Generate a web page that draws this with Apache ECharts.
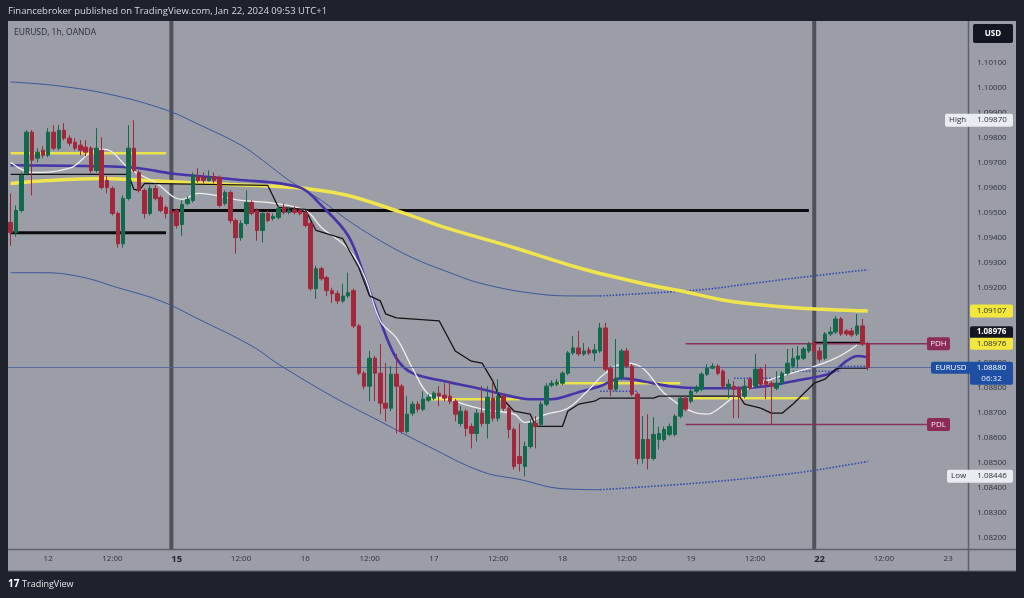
<!DOCTYPE html>
<html><head><meta charset="utf-8">
<script src="https://cdn.jsdelivr.net/npm/echarts@6/dist/echarts.min.js"></script>
<style>html,body{margin:0;padding:0;background:#1e222d;}#c{width:1024px;height:598px;}</style>
</head><body><div id="c"></div>
<script>
// ---------- DATA ----------
const sessionDays = ['11','12','15','16','17','18','19','22','23'];
const mondayDays = ['15','22'];
const barsBeforeFirstDay = 7;
const totalBars = 179;
const categories = [];
for (let k = 0; k < totalBars; k++) {
  const i = k - barsBeforeFirstDay;
  const d = i < 0 ? 0 : 1 + Math.floor(i / 24);
  const h = ((i % 24) + 24) % 24;
  categories.push('Jan ' + sessionDays[d] + ' ' + String(h).padStart(2, '0') + ':00');
}

// hourly OHLC: [open, close, low, high]
const candles = [
[1.09461,1.09420,1.09368,1.09577],[1.09420,1.09509,1.09404,1.09529],[1.09509,1.09649,1.09501,1.09661],[1.09657,1.09822,1.09649,1.09830],
[1.09822,1.09710,1.09569,1.09830],[1.09718,1.09742,1.09702,1.09758],[1.09750,1.09730,1.09718,1.09766],[1.09730,1.09822,1.09722,1.09838],
[1.09822,1.09758,1.09750,1.09850],[1.09758,1.09830,1.09750,1.09850],[1.09830,1.09798,1.09790,1.09858],[1.09798,1.09778,1.09766,1.09810],
[1.09782,1.09758,1.09750,1.09798],[1.09770,1.09750,1.09730,1.09790],[1.09762,1.09742,1.09726,1.09790],[1.09758,1.09669,1.09657,1.09766],
[1.09669,1.09758,1.09661,1.09838],[1.09750,1.09601,1.09593,1.09802],[1.09629,1.09601,1.09577,1.09645],[1.09597,1.09497,1.09489,1.09605],
[1.09497,1.09376,1.09360,1.09505],[1.09376,1.09557,1.09360,1.09569],[1.09557,1.09758,1.09549,1.09850],[1.09758,1.09669,1.09661,1.09870],
[1.09661,1.09589,1.09581,1.09669],[1.09589,1.09497,1.09477,1.09597],[1.09497,1.09597,1.09489,1.09609],[1.09597,1.09557,1.09549,1.09609],
[1.09561,1.09509,1.09501,1.09569],[1.09521,1.09497,1.09477,1.09529],[1.09505,1.09501,1.09485,1.09513],[1.09509,1.09449,1.09437,1.09517],
[1.09453,1.09533,1.09408,1.09549],[1.09537,1.09553,1.09529,1.09565],[1.09549,1.09649,1.09541,1.09661],[1.09645,1.09629,1.09621,1.09678],
[1.09641,1.09629,1.09617,1.09661],[1.09629,1.09641,1.09625,1.09669],[1.09645,1.09629,1.09617,1.09661],[1.09641,1.09529,1.09521,1.09649],
[1.09537,1.09581,1.09529,1.09589],[1.09581,1.09469,1.09457,1.09589],[1.09469,1.09400,1.09336,1.09477],[1.09400,1.09457,1.09388,1.09469],
[1.09457,1.09541,1.09449,1.09589],[1.09541,1.09497,1.09489,1.09549],[1.09509,1.09429,1.09388,1.09517],[1.09429,1.09497,1.09380,1.09505],
[1.09497,1.09469,1.09461,1.09509],[1.09477,1.09485,1.09469,1.09497],[1.09481,1.09517,1.09473,1.09525],[1.09521,1.09501,1.09493,1.09537],
[1.09501,1.09509,1.09493,1.09521],[1.09513,1.09501,1.09493,1.09525],[1.09509,1.09497,1.09489,1.09517],[1.09501,1.09449,1.09441,1.09509],
[1.09457,1.09196,1.09188,1.09465],[1.09196,1.09276,1.09155,1.09288],[1.09276,1.09236,1.09228,1.09284],[1.09240,1.09188,1.09167,1.09248],
[1.09188,1.09176,1.09139,1.09200],[1.09176,1.09147,1.09135,1.09188],[1.09147,1.09167,1.09139,1.09216],[1.09167,1.09180,1.09159,1.09260],
[1.09188,1.09047,1.09039,1.09196],[1.09047,1.08858,1.08850,1.09055],[1.08858,1.08806,1.08794,1.08866],[1.08806,1.08918,1.08746,1.08947],
[1.08918,1.08858,1.08746,1.08927],[1.08858,1.08738,1.08694,1.08975],[1.08738,1.08718,1.08665,1.08898],[1.08718,1.08854,1.08706,1.08886],
[1.08854,1.08806,1.08617,1.08935],[1.08806,1.08625,1.08617,1.08814],[1.08625,1.08694,1.08617,1.08766],[1.08698,1.08734,1.08686,1.08746],
[1.08734,1.08714,1.08702,1.08746],[1.08714,1.08754,1.08706,1.08786],[1.08750,1.08762,1.08742,1.08774],[1.08758,1.08778,1.08750,1.08786],
[1.08778,1.08766,1.08726,1.08806],[1.08770,1.08758,1.08746,1.08818],[1.08766,1.08746,1.08734,1.08826],[1.08746,1.08694,1.08665,1.08754],
[1.08657,1.08706,1.08645,1.08726],[1.08706,1.08637,1.08605,1.08714],[1.08645,1.08617,1.08557,1.08657],[1.08617,1.08698,1.08585,1.08714],
[1.08698,1.08657,1.08645,1.08806],[1.08657,1.08762,1.08597,1.08806],[1.08758,1.08678,1.08665,1.08826],[1.08678,1.08766,1.08665,1.08834],
[1.08766,1.08718,1.08706,1.08774],[1.08718,1.08633,1.08597,1.08726],[1.08633,1.08485,1.08473,1.08641],[1.08525,1.08497,1.08465,1.08657],
[1.08485,1.08565,1.08446,1.08585],[1.08565,1.08657,1.08557,1.08674],[1.08657,1.08645,1.08557,1.08686],[1.08653,1.08734,1.08645,1.08746],
[1.08734,1.08806,1.08726,1.08818],[1.08810,1.08818,1.08802,1.08830],[1.08814,1.08822,1.08806,1.08834],[1.08818,1.08858,1.08810,1.08866],
[1.08858,1.08939,1.08850,1.08947],[1.08939,1.08959,1.08931,1.09007],[1.08959,1.08935,1.08927,1.09027],[1.08935,1.08947,1.08927,1.08979],
[1.08951,1.08939,1.08931,1.08963],[1.08939,1.08951,1.08906,1.08975],[1.08947,1.09039,1.08939,1.09059],[1.09039,1.08874,1.08866,1.09059],
[1.08878,1.08794,1.08766,1.08886],[1.08794,1.08838,1.08786,1.08995],[1.08838,1.08947,1.08830,1.08955],[1.08947,1.08886,1.08878,1.08959],
[1.08886,1.08774,1.08766,1.08894],[1.08774,1.08517,1.08493,1.08782],[1.08517,1.08593,1.08497,1.08686],[1.08593,1.08517,1.08473,1.08694],
[1.08517,1.08613,1.08509,1.08682],[1.08593,1.08617,1.08553,1.08645],[1.08593,1.08633,1.08585,1.08645],[1.08613,1.08645,1.08605,1.08657],
[1.08613,1.08686,1.08605,1.08694],[1.08686,1.08758,1.08678,1.08766],[1.08758,1.08714,1.08706,1.08766],[1.08746,1.08786,1.08738,1.08794],
[1.08786,1.08802,1.08778,1.08810],[1.08794,1.08854,1.08786,1.08862],[1.08854,1.08878,1.08846,1.08894],[1.08878,1.08886,1.08874,1.08898],
[1.08886,1.08858,1.08850,1.08894],[1.08866,1.08806,1.08794,1.08874],[1.08798,1.08814,1.08758,1.08834],[1.08806,1.08794,1.08678,1.08826],
[1.08798,1.08766,1.08678,1.08806],[1.08766,1.08806,1.08758,1.08834],[1.08834,1.08798,1.08790,1.08842],[1.08806,1.08874,1.08798,1.08935],
[1.08874,1.08814,1.08806,1.08882],[1.08826,1.08814,1.08754,1.08894],[1.08818,1.08806,1.08653,1.08826],[1.08798,1.08818,1.08790,1.08866],
[1.08818,1.08858,1.08810,1.08866],[1.08858,1.08898,1.08850,1.08955],[1.08886,1.08918,1.08878,1.08959],[1.08914,1.08927,1.08878,1.08967],
[1.08918,1.08955,1.08910,1.08963],[1.08947,1.08975,1.08939,1.08983],[1.08979,1.08947,1.08939,1.08987],[1.08947,1.08914,1.08902,1.08963],
[1.08918,1.09015,1.08910,1.09023],[1.09015,1.09023,1.09007,1.09043],[1.09023,1.09075,1.09015,1.09087],[1.09075,1.09015,1.09007,1.09083],
[1.09027,1.09015,1.09007,1.09035],[1.09027,1.09011,1.09003,1.09039],[1.09015,1.09047,1.09007,1.09095],[1.09047,1.08975,1.08967,1.09075],
[1.08976,1.08880,1.08870,1.08983]
];

// indicator lines, read at key bars: [bar, price]
const ema200 = [[0,1.09617],[7,1.09629],[17,1.09637],[29,1.09625],[41,1.09613],[50,1.09605],[55,1.09597],[63,1.09569],[73,1.09501],[81,1.09441],[94,1.09360],[106,1.09280],[119,1.09212],[125,1.09188],[134,1.09147],[147,1.09119],[160,1.09107]];
const ema50 = [[0,1.09690],[17,1.09686],[24,1.09678],[30,1.09657],[42,1.09633],[54,1.09601],[58,1.09529],[63,1.09408],[66,1.09248],[69,1.09067],[72,1.08918],[75,1.08858],[81,1.08826],[88,1.08794],[91,1.08778],[97,1.08754],[101,1.08754],[106,1.08782],[110,1.08806],[114,1.08838],[118,1.08826],[123,1.08806],[129,1.08798],[135,1.08798],[141,1.08806],[147,1.08830],[153,1.08858],[156,1.08906],[158,1.08927],[160,1.08922]];
const emaFast = [[0,1.09702],[4,1.09661],[11,1.09678],[15,1.09742],[17,1.09754],[19,1.09742],[22,1.09678],[27,1.09621],[32,1.09553],[35,1.09577],[43,1.09549],[48,1.09541],[55,1.09509],[58,1.09441],[63,1.09356],[66,1.09248],[69,1.09067],[72,1.08999],[75,1.08878],[78,1.08774],[81,1.08758],[88,1.08714],[94,1.08694],[96,1.08661],[100,1.08694],[104,1.08718],[108,1.08794],[111,1.08858],[115,1.08898],[118,1.08878],[122,1.08778],[127,1.08706],[130,1.08694],[132,1.08714],[136,1.08778],[142,1.08834],[149,1.08878],[154,1.08918],[158,1.08971]];
const baseLine = [[0,1.09653],[22,1.09653],[23,1.09593],[24,1.09589],[25,1.09617],[48,1.09609],[50,1.09521],[55,1.09513],[57,1.09429],[62,1.09396],[65,1.09280],[67,1.09167],[69,1.09147],[70,1.09095],[72,1.09079],[80,1.09067],[82,1.08987],[83,1.08947],[86,1.08906],[88,1.08898],[90,1.08826],[91,1.08774],[94,1.08706],[97,1.08694],[98,1.08645],[103,1.08645],[104,1.08706],[106,1.08734],[109,1.08746],[110,1.08758],[120,1.08758],[121,1.08766],[136,1.08766],[137,1.08734],[140,1.08718],[142,1.08698],[144,1.08698],[146,1.08734],[150,1.08818],[152,1.08834],[154,1.08874],[155,1.08878],[160,1.08878]];
const upperBand = [[0,1.10023],[9,1.10007],[19,1.09971],[29,1.09911],[35,1.09854],[43,1.09770],[47,1.09710],[52,1.09629],[58,1.09549],[63,1.09469],[69,1.09388],[75,1.09320],[82,1.09260],[88,1.09216],[98,1.09176],[106,1.09167],[110,1.09167]];
const upperBandProj = [[110,1.09167],[129,1.09192],[138,1.09216],[147,1.09240],[160,1.09272]];
const lowerBand = [[0,1.09260],[6,1.09260],[13,1.09244],[20,1.09200],[28,1.09147],[35,1.09075],[45,1.08967],[50,1.08894],[60,1.08766],[69,1.08665],[78,1.08565],[88,1.08464],[95,1.08433],[103,1.08396],[110,1.08392]];
const lowerBandProj = [[110,1.08392],[129,1.08420],[147,1.08460],[160,1.08505]];

// drawn levels: [fromBar, toBar, price]
const blackLevels = [[0,29,1.09420],[30,149,1.09509],[150,159,1.08979]];
const yellowLevels = [[0,29,1.09738],[78,95,1.08754],[102,125,1.08818],[127,149,1.08758]];
const dottedLevels = [[110,117,1.08786],[135,144,1.08838],[146,155,1.08866],[155,160,1.08886]];
const prevDay = {from:126, to:172, high:1.08976, low:1.08653};
const weekSeparators = [30, 150];

const lastPrice = 1.08880, lastOpen = 1.08976, maLast = 1.09107;
const sessionHigh = 1.09870, sessionLow = 1.08446;
const countdown = '06:32';
const yTicks = {min:1.081, max:1.103, step:0.001};

// ---------- CHART ----------
const chart = echarts.init(document.getElementById('c'));
const FONT = 'Open Sans';
function seg(l){ return [[l[0], l[2]], [l[1], l[2]]]; }
function lineSeries(data, color, width, type, smooth, z){
  return {type:'line', data:data, symbol:'none', smooth:smooth||false, silent:true, z:z||3,
    lineStyle:{color:color, width:width, type:type||'solid'}, animation:false};
}
const series = [];
series.push(lineSeries(upperBand,'#3b569c',1,'solid',0.4));
series.push(lineSeries(upperBandProj,'#2f4db0',1.6,'dotted',0.3));
series.push(lineSeries(lowerBand,'#3b569c',1,'solid',0.4));
series.push(lineSeries(lowerBandProj,'#2f4db0',1.6,'dotted',0.3));
blackLevels.forEach((l,j)=>series.push(lineSeries(seg(l),'#0b0b0d',j===2?2.2:3)));
yellowLevels.forEach(l=>series.push(lineSeries(seg(l),'#e9e24a',2.5)));
dottedLevels.forEach(l=>series.push(lineSeries(seg(l),'#3a4fb0',1.6,'dotted')));
series.push(lineSeries([[prevDay.from,prevDay.high],[prevDay.to,prevDay.high]],'#8a3159',1.6));
series.push(lineSeries([[prevDay.from,prevDay.low],[prevDay.to,prevDay.low]],'#8a3159',1.6));
series.push(lineSeries(ema200,'#f0e54c',3.5,'solid',0.35,4));
series.push(lineSeries(ema50,'#4634a8',2.6,'solid',0.35,4));
series.push(lineSeries(emaFast,'#eeeeee',1.3,'solid',0.4,4));
series.push(lineSeries(baseLine,'#141416',1.3,'solid',false,4));
series.push({
  type:'candlestick', data:candles, barWidth:4, z:5, silent:true,
  itemStyle:{color:'#12694c', color0:'#a1273a', borderColor:'#12694c', borderColor0:'#a1273a', borderWidth:1},
  markLine:{symbol:'none', silent:true, precision:5, label:{show:false}, animation:false,
    lineStyle:{color:'#4d639c', width:1, type:'solid', opacity:0.85}, data:[{yAxis:lastPrice}]}
});

chart.setOption({
  backgroundColor:'#1e222d',
  animation:false,
  grid:{left:8, right:57.1, top:12.7, bottom:35.3},
  xAxis:{type:'category', data:categories, boundaryGap:true,
    axisLine:{show:false}, axisTick:{show:false}, splitLine:{show:false},
    axisLabel:{
      margin:-8, color:'#30333b', fontSize:8, fontFamily:FONT,
      interval:function(idx){ const i = idx - barsBeforeFirstDay; return i >= 0 && i % 12 === 0; },
      formatter:function(v, idx){
        const i = idx - barsBeforeFirstDay;
        if (i % 24 === 0) { const d = sessionDays[1 + i/24]; return mondayDays.indexOf(d) >= 0 ? '{b|' + d + '}' : d; }
        return '12:00';
      },
      rich:{b:{fontWeight:'bold', fontSize:9.5, color:'#23262d', fontFamily:FONT}}
    }},
  yAxis:{type:'value', position:'right', min:yTicks.min, max:yTicks.max, interval:yTicks.step, scale:true,
    axisLine:{show:false}, axisTick:{show:false}, splitLine:{show:false},
    axisLabel:{align:'center', margin:25, color:'#30333b', fontSize:8, fontFamily:FONT,
      formatter:function(v){ return (v > 1.1015 || v < 1.0815) ? '' : v.toFixed(5); }}},
  series:series
});

// ---------- overlays ----------
const yOf = v => chart.convertToPixel({yAxisIndex:0}, v);
const xOf = k => chart.convertToPixel({xAxisIndex:0}, k);
const G = [];
const PANEL = '#9b9ea6', EDGE = '#5e6169';
G.push({type:'rect', z:-10, shape:{x:8,y:21,width:960,height:528}, style:{fill:PANEL}});
G.push({type:'rect', z:-10, shape:{x:969,y:21,width:47,height:550}, style:{fill:PANEL}});
G.push({type:'rect', z:-10, shape:{x:8,y:550,width:961,height:21}, style:{fill:PANEL}});
G.push({type:'line', z:-9, shape:{x1:968.5,y1:21,x2:968.5,y2:571}, style:{stroke:EDGE, lineWidth:1.5}});
G.push({type:'line', z:-9, shape:{x1:8,y1:549.5,x2:1016,y2:549.5}, style:{stroke:EDGE, lineWidth:1.5}});
G.push({type:'line', z:-9, shape:{x1:8,y1:571,x2:1016,y2:571}, style:{stroke:EDGE, lineWidth:1}});
weekSeparators.forEach(k=>{
  const x = xOf(k);
  G.push({type:'rect', z:-8, shape:{x:x-2,y:21,width:4,height:528}, style:{fill:'#4f5259'}});
});
G.push({type:'text', z:50, style:{x:8, y:11, text:'Financebroker published on TradingView.com, Jan 22, 2024 09:53 UTC+1', fill:'#d6d9e0', font:'9.5px "Open Sans"', textVerticalAlign:'middle'}});
G.push({type:'text', z:50, style:{x:14, y:33, text:'EURUSD, 1h, OANDA', fill:'#2a2d35', font:'8.5px "Open Sans"', textVerticalAlign:'middle'}});
G.push({type:'text', z:50, style:{x:8, y:584, text:'17', fill:'#ffffff', font:'bold 10px "Open Sans"', textVerticalAlign:'middle'}});
G.push({type:'text', z:50, style:{x:22, y:584, text:'TradingView', fill:'#e8e8ea', font:'9px "Open Sans"', textVerticalAlign:'middle'}});

function tag(x, yc, w, h, fill, txt, txtColor, bold, tx){
  G.push({type:'rect', z:100, shape:{x:x, y:yc-h/2, width:w, height:h, r:2}, style:{fill:fill}});
  G.push({type:'text', z:101, style:{x:tx!==undefined?tx:x+w/2, y:yc, text:txt, fill:txtColor, font:(bold?'bold ':'')+'8px "Open Sans"', textAlign:'center', textVerticalAlign:'middle'}});
}
// USD box
tag(973, 33.5, 40, 19, '#131722', 'USD', '#ffffff', true);
// High / Low
let yh = yOf(sessionHigh);
tag(945, yh, 68, 13, '#e9edf2', sessionHigh.toFixed(5), '#2a2d35', false, 992);
G.push({type:'text', z:101, style:{x:949, y:yh, text:'High', fill:'#2a2d35', font:'8px "Open Sans"', textVerticalAlign:'middle'}});
let yl = yOf(sessionLow);
tag(947, yl, 66, 13, '#e9edf2', sessionLow.toFixed(5), '#2a2d35', false, 992);
G.push({type:'text', z:101, style:{x:951, y:yl, text:'Low', fill:'#2a2d35', font:'8px "Open Sans"', textVerticalAlign:'middle'}});
// MA tag
tag(970, yOf(maLast), 43, 13, '#f2e73c', maLast.toFixed(5), '#2a2d35', false);
// prev-day high tags
tag(970, yOf(lastOpen)-11.5, 43, 12, '#131722', lastOpen.toFixed(5), '#ffffff', true);
tag(970, yOf(lastOpen), 43, 12, '#f2e73c', lastOpen.toFixed(5), '#2a2d35', false);
// PDH / PDL
tag(927, yOf(prevDay.high), 23, 13, '#8b2b56', 'PDH', '#f3e6ee', false);
tag(927, yOf(prevDay.low), 23, 13, '#8b2b56', 'PDL', '#f3e6ee', false);
// last price
let yp = yOf(lastPrice);
G.push({type:'rect', z:100, shape:{x:931, y:yp-6, width:40, height:12, r:[2,0,0,2]}, style:{fill:'#1f4fa3'}});
G.push({type:'text', z:101, style:{x:951, y:yp, text:'EURUSD', fill:'#ffffff', font:'8px "Open Sans"', textAlign:'center', textVerticalAlign:'middle'}});
G.push({type:'rect', z:100, shape:{x:970, y:yp-6, width:43, height:23, r:[0,2,2,2]}, style:{fill:'#1f4fa3'}});
G.push({type:'text', z:101, style:{x:991.5, y:yp, text:lastPrice.toFixed(5), fill:'#ffffff', font:'8px "Open Sans"', textAlign:'center', textVerticalAlign:'middle'}});
G.push({type:'text', z:101, style:{x:991.5, y:yp+11, text:countdown, fill:'#e6ecf7', font:'8px "Open Sans"', textAlign:'center', textVerticalAlign:'middle'}});

chart.setOption({graphic:G});
</script></body></html>
